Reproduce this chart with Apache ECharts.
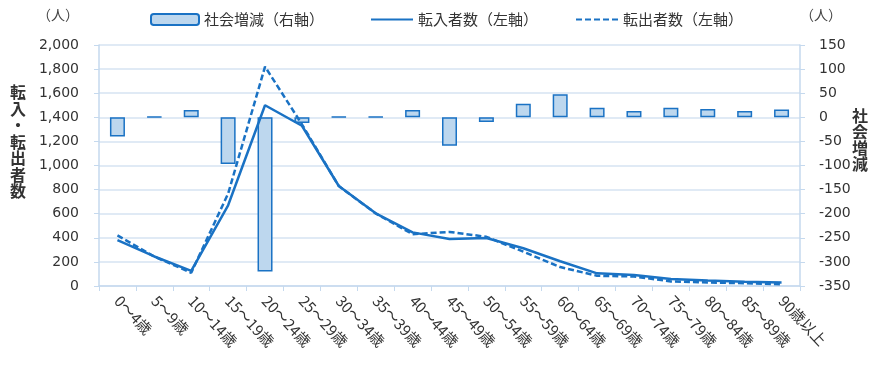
<!DOCTYPE html>
<html><head><meta charset="utf-8">
<script src="https://cdn.jsdelivr.net/npm/echarts@6/dist/echarts.min.js"></script>
<style>html,body{margin:0;padding:0;background:#fff}#c{width:885px;height:369px}</style>
</head><body><div id="c"></div>
<script>
const categories = ["0～4歳","5～9歳","10～14歳","15～19歳","20～24歳","25～29歳","30～34歳","35～39歳","40～44歳","45～49歳","50～54歳","55～59歳","60～64歳","65～69歳","70～74歳","75～79歳","80～84歳","85～89歳","90歳以上"];
const socialChange = [-40, 1, 15, -97, -320, -12, 1, 1, 15, -59, -10, 28, 48, 20, 13, 20, 17, 13, 16];
const moveIn = [380, 245, 125, 670, 1500, 1330, 830, 603, 445, 390, 398, 313, 205, 105, 92, 58, 46, 36, 30];
const moveOut = [420, 244, 110, 767, 1820, 1342, 829, 602, 430, 449, 408, 285, 157, 85, 79, 38, 29, 23, 14];
const leftTicks = {min: 0, max: 2000, interval: 200};
const rightTicks = {min: -350, max: 150, interval: 50};

const FONT = '"Noto Sans CJK JP", "Noto Sans", sans-serif';
const NUMFONT = '"DejaVu Sans", sans-serif';
const BLUE = '#1a72c4';
const AXIS = '#c5d9ee';
const chart = echarts.init(document.getElementById('c'), null, {renderer: 'canvas'});
chart.setOption({
  animation: false,
  textStyle: {fontFamily: FONT},
  grid: {left: 99, right: 85, top: 45, bottom: 83, containLabel: false},
  legend: [
    {left: 145, top: 7, itemWidth: 48, itemHeight: 11, itemGap: 6, data: ['社会増減（右軸）'],
     textStyle: {fontSize: 15, color: '#333', fontFamily: FONT}},
    {left: 365, top: 7, itemWidth: 42, itemHeight: 11, data: ['転入者数（左軸）'],
     itemStyle: {opacity: 0},
     textStyle: {fontSize: 15, color: '#333', fontFamily: FONT}},
    {left: 570, top: 7, itemWidth: 42, itemHeight: 11, data: ['転出者数（左軸）'],
     itemStyle: {opacity: 0},
     textStyle: {fontSize: 15, color: '#333', fontFamily: FONT}}
  ],
  xAxis: {
    type: 'category', data: categories, boundaryGap: true,
    axisLine: {lineStyle: {color: AXIS, width: 1.5}},
    axisTick: {show: true, alignWithLabel: false, length: 5, lineStyle: {color: AXIS}},
    axisLabel: {rotate: -47, color: '#333', fontSize: 15, margin: 12, interval: 0, fontFamily: FONT}
  },
  yAxis: [
    {type: 'value', min: leftTicks.min, max: leftTicks.max, interval: leftTicks.interval,
     axisLine: {show: true, lineStyle: {color: AXIS, width: 1.5}},
     axisTick: {show: true, length: 5, lineStyle: {color: AXIS}},
     splitLine: {lineStyle: {color: '#d6e3f2', width: 1.5}},
     axisLabel: {color: '#333', fontSize: 14, margin: 20, fontFamily: NUMFONT,
       formatter: v => v.toLocaleString('en-US')}},
    {type: 'value', min: rightTicks.min, max: rightTicks.max, interval: rightTicks.interval,
     axisLine: {show: true, lineStyle: {color: AXIS, width: 1.5}},
     axisTick: {show: true, length: 5, lineStyle: {color: AXIS}},
     splitLine: {show: false},
     axisLabel: {color: '#333', fontSize: 14, margin: 19, fontFamily: NUMFONT}}
  ],
  graphic: [
    {type: 'text', left: 37, top: 8, style: {text: '（人）', fill: '#444', font: '14px ' + FONT}},
    {type: 'text', left: 800, top: 8, style: {text: '（人）', fill: '#444', font: '14px ' + FONT}},
    {type: 'text', left: 10, top: 84, style: {text: '転\n入\n・\n転\n出\n者\n数', fill: '#333',
      font: 'bold 16px ' + FONT, lineHeight: 16.5, align: 'center'}},
    {type: 'text', left: 852, top: 108, style: {text: '社\n会\n増\n減', fill: '#333',
      font: 'bold 16px ' + FONT, lineHeight: 16, align: 'center'}}
  ],
  series: [
    {name: '社会増減（右軸）', type: 'bar', yAxisIndex: 1, data: socialChange, barWidth: 15,
     itemStyle: {color: '#bdd7ee', borderColor: BLUE, borderWidth: 1.5}, z: 2},
    {name: '転入者数（左軸）', type: 'line', yAxisIndex: 0, data: moveIn, symbol: 'none',
     lineStyle: {color: BLUE, width: 2.5}, itemStyle: {color: BLUE}, z: 3},
    {name: '転出者数（左軸）', type: 'line', yAxisIndex: 0, data: moveOut, symbol: 'none',
     lineStyle: {color: BLUE, width: 2.5, type: [6, 3]}, itemStyle: {color: BLUE}, z: 3}
  ]
});
</script></body></html>
